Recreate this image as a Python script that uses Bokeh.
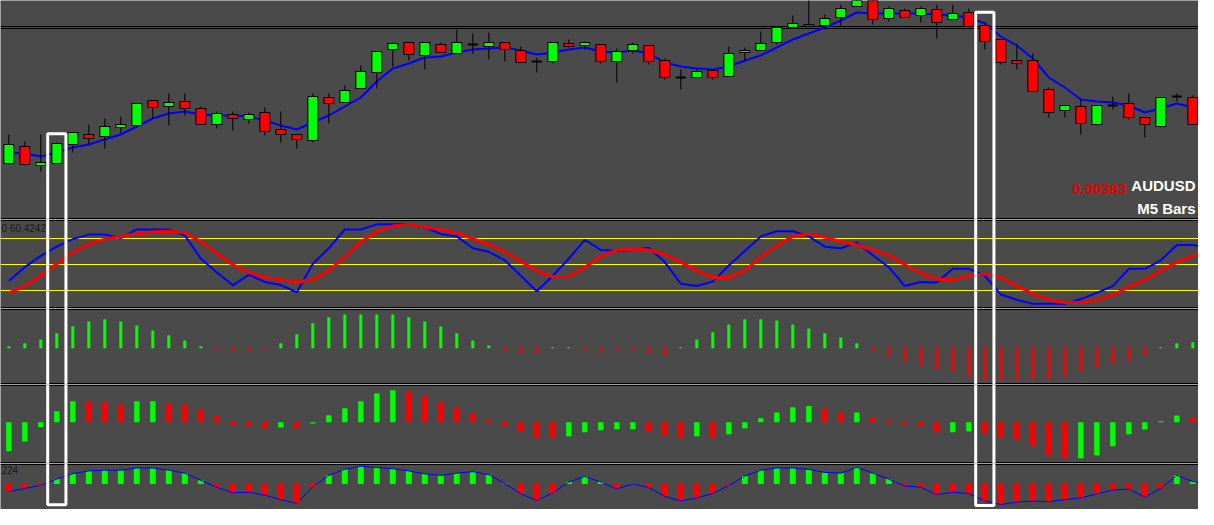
from bokeh.plotting import figure
from bokeh.layouts import column
from bokeh.models import Range1d, Label, ColumnDataSource
from bokeh.embed import file_html
from bokeh.resources import INLINE

# ---------------- data ----------------
bars = list(range(76))

open_ = [0.90320, 0.90337, 0.90318, 0.90320, 0.90339, 0.90349, 0.90347, 0.90356, 0.90358, 0.90383,
         0.90377, 0.90382, 0.90375, 0.90359, 0.90369, 0.90364, 0.90371, 0.90354, 0.90349, 0.90343,
         0.90386, 0.90381, 0.90395, 0.90411, 0.90434, 0.90441, 0.90428, 0.90439, 0.90430, 0.90439,
         0.90437, 0.90441, 0.90433, 0.90422, 0.90422, 0.90440, 0.90438, 0.90439, 0.90422, 0.90433,
         0.90438, 0.90423, 0.90406, 0.90406, 0.90413, 0.90407, 0.90431, 0.90433, 0.90441, 0.90456,
         0.90459, 0.90458, 0.90466, 0.90477, 0.90486, 0.90465, 0.90473, 0.90468, 0.90474, 0.90464,
         0.90471, 0.90458, 0.90444, 0.90423, 0.90423, 0.90394, 0.90373, 0.90377, 0.90359, 0.90378,
         0.90380, 0.90366, 0.90357, 0.90387, 0.90386, 0.90359]
high = [0.90349, 0.90342, 0.90349, 0.90341, 0.90351, 0.90359, 0.90365, 0.90367, 0.90380, 0.90383,
        0.90390, 0.90390, 0.90377, 0.90372, 0.90372, 0.90371, 0.90376, 0.90372, 0.90349, 0.90390,
        0.90390, 0.90398, 0.90418, 0.90432, 0.90441, 0.90441, 0.90441, 0.90441, 0.90454, 0.90450,
        0.90451, 0.90441, 0.90437, 0.90426, 0.90441, 0.90444, 0.90442, 0.90439, 0.90435, 0.90441,
        0.90438, 0.90425, 0.90414, 0.90414, 0.90414, 0.90437, 0.90436, 0.90452, 0.90456, 0.90468,
        0.90486, 0.90469, 0.90479, 0.90487, 0.90488, 0.90477, 0.90475, 0.90477, 0.90479, 0.90479,
        0.90475, 0.90461, 0.90444, 0.90440, 0.90430, 0.90396, 0.90378, 0.90385, 0.90378, 0.90387,
        0.90390, 0.90366, 0.90386, 0.90390, 0.90388, 0.90387]
low = [0.90319, 0.90318, 0.90312, 0.90320, 0.90331, 0.90339, 0.90335, 0.90350, 0.90356, 0.90365,
       0.90358, 0.90368, 0.90359, 0.90355, 0.90353, 0.90360, 0.90348, 0.90341, 0.90335, 0.90341,
       0.90360, 0.90381, 0.90395, 0.90395, 0.90417, 0.90423, 0.90414, 0.90431, 0.90430, 0.90430,
       0.90424, 0.90422, 0.90421, 0.90411, 0.90420, 0.90436, 0.90434, 0.90420, 0.90401, 0.90430,
       0.90419, 0.90404, 0.90394, 0.90406, 0.90404, 0.90407, 0.90422, 0.90433, 0.90439, 0.90456,
       0.90457, 0.90454, 0.90457, 0.90477, 0.90459, 0.90462, 0.90466, 0.90461, 0.90445, 0.90464,
       0.90457, 0.90434, 0.90419, 0.90414, 0.90392, 0.90366, 0.90366, 0.90349, 0.90358, 0.90374,
       0.90364, 0.90346, 0.90356, 0.90382, 0.90359, 0.90350]
close = [0.90339, 0.90319, 0.90321, 0.90340, 0.90351, 0.90345, 0.90357, 0.90359, 0.90380, 0.90376,
         0.90381, 0.90375, 0.90359, 0.90370, 0.90365, 0.90369, 0.90352, 0.90349, 0.90344, 0.90387,
         0.90380, 0.90393, 0.90412, 0.90432, 0.90440, 0.90429, 0.90441, 0.90431, 0.90441, 0.90439,
         0.90441, 0.90434, 0.90421, 0.90422, 0.90441, 0.90437, 0.90441, 0.90422, 0.90432, 0.90439,
         0.90422, 0.90406, 0.90406, 0.90412, 0.90406, 0.90430, 0.90433, 0.90440, 0.90456, 0.90460,
         0.90457, 0.90465, 0.90475, 0.90485, 0.90464, 0.90475, 0.90466, 0.90475, 0.90461, 0.90470,
         0.90457, 0.90442, 0.90421, 0.90420, 0.90392, 0.90371, 0.90378, 0.90360, 0.90378, 0.90378,
         0.90366, 0.90359, 0.90386, 0.90387, 0.90359, 0.90383]
ma = [0.90331, 0.90330, 0.90327, 0.90331, 0.90336, 0.90339, 0.90344, 0.90349, 0.90357, 0.90365,
      0.90370, 0.90372, 0.90369, 0.90368, 0.90368, 0.90367, 0.90363, 0.90358, 0.90354, 0.90361,
      0.90368, 0.90377, 0.90386, 0.90402, 0.90415, 0.90420, 0.90426, 0.90427, 0.90431, 0.90434,
      0.90435, 0.90436, 0.90433, 0.90429, 0.90431, 0.90434, 0.90436, 0.90432, 0.90431, 0.90433,
      0.90430, 0.90421, 0.90417, 0.90415, 0.90414, 0.90417, 0.90423, 0.90428, 0.90436, 0.90444,
      0.90450, 0.90456, 0.90463, 0.90471, 0.90470, 0.90470, 0.90470, 0.90470, 0.90469, 0.90468,
      0.90466, 0.90460, 0.90447, 0.90438, 0.90425, 0.90406, 0.90396, 0.90384, 0.90382, 0.90381,
      0.90378, 0.90371, 0.90375, 0.90380, 0.90376, 0.90373]
hline_levels = [0.90457, 0.90455]

stoch_main = [31.0, 46.9, 59.9, 70.6, 79.3, 84.5, 84.5, 80.5, 90.4, 90.4,
              90.4, 83.6, 56.8, 40.9, 26.0, 38.2, 29.9, 26.3, 18.0, 50.9,
              68.7, 90.4, 90.4, 96.3, 96.3, 96.3, 92.4, 85.3, 82.4, 68.7,
              64.7, 54.8, 37.0, 19.2, 37.0, 56.8, 78.5, 66.7, 65.5, 66.7,
              69.4, 52.8, 27.9, 25.1, 30.2, 48.9, 65.5, 82.4, 88.4, 88.4,
              82.4, 70.6, 68.7, 75.3, 60.7, 46.9, 25.1, 29.9, 29.1, 45.0,
              45.0, 37.0, 15.3, 9.4, 4.6, 4.6, 4.6, 10.1, 17.2, 25.1,
              45.0, 45.0, 54.8, 72.6, 72.6, 68.7]
stoch_signal = [17.2, 25.1, 37.0, 50.9, 63.9, 73.4, 79.3, 82.4, 85.6, 87.6,
                88.4, 86.5, 76.5, 62.8, 49.7, 40.9, 35.0, 32.3, 29.9, 32.3,
                42.9, 58.7, 75.8, 88.4, 94.3, 96.3, 93.1, 90.4, 86.5, 79.7,
                73.4, 64.7, 53.6, 42.9, 35.8, 36.2, 46.9, 59.5, 66.7, 67.9,
                66.7, 61.6, 52.8, 42.9, 35.0, 35.0, 42.9, 58.7, 71.8, 82.4,
                85.3, 81.3, 76.5, 72.6, 66.7, 60.7, 49.7, 40.2, 33.1, 32.3,
                37.0, 39.0, 35.0, 25.1, 16.5, 9.4, 6.2, 6.2, 9.4, 14.5,
                24.3, 32.3, 42.9, 52.8, 59.9, 65.5]
stoch_levels = [80, 50, 20]

hist1 = [2, 5, 8.7, 15, 22, 26.7, 29, 26.7, 22.7, 17.7,
         13, 7.7, 2, -2, -3.3, -3.3, -2, 5, 14, 25,
         31, 33.7, 33.7, 33.7, 33.7, 31, 26.7, 21.7, 15, 7.7,
         2.7, -3.3, -5.7, -5.7, 1, 1, -2.3, -4, -2.3, -2.3,
         -5.7, -6.7, 1, 8.7, 16, 23.7, 29, 29, 27.7, 23.7,
         19.7, 15, 10.7, 5, -3.3, -8, -14, -17.3, -21.3, -23.3,
         -28.3, -32.3, -32.3, -32.3, -31.7, -31.7, -28.3, -23.3, -19, -15,
         -12.3, -7.3, 1, 5, 6, 7]

hist2 = [-29, -19.3, -5, 11, 21, 21, 20, 17.7, 21, 21,
         19, 17.7, 12.7, 6, -2.7, -4, -6, -5.3, -6, -1.3,
         7, 14, 21, 28.7, 32, 31, 26, 20, 15, 9,
         3.3, -4, -9, -15.7, -15.7, -14, -10, -8, -7, -7,
         -9, -13, -15.7, -14, -15.3, -12, -6, 4, 9.7, 15,
         16.3, 13.7, 9.7, 9.7, 5.3, 2, -2.3, -4, -10, -10,
         -9, -11.7, -15.3, -17.3, -24, -33.7, -36, -36, -33, -24,
         -12, -7.3, 1, 6.7, 5, 3.3]
hist2_dir = list("GGGGGRRRGGRRRRRRRGRGGGGGG"
                 "RRRRRRRRRRGGGGGRRRGRGGGGG"
                 "GRRGRRRRRGGRRRRRRGGGGGGGRR")

hist3 = [-10, -6, -1.7, 6.7, 14, 17.7, 18.7, 18.7, 21.7, 21.7,
         18.7, 14.7, 5, -4.3, -11.7, -11, -15, -21, -26, -3.7,
         11.7, 20, 24, 22.3, 20.7, 17.7, 13.7, 11.7, 14.7, 16.7,
         12.7, 0.7, -13.3, -22, -12, 2.7, 10.3, 2.7, -6.7, 0.3,
         -4.7, -16.7, -22.7, -18.7, -12.7, -2, 10.7, 18.7, 21.7, 21.7,
         19.7, 15.7, 14.7, 22.7, 14.7, 6.7, -2.7, -4.3, -14.3, -11,
         -12.7, -22.7, -27.7, -24.3, -22.7, -23.7, -21, -18.7, -13.3, -8,
         -6.7, -17.7, -6, 11.7, 3.3, 0.7]

highlight_bars = [3, 61]
price_text = "0.90383"
symbol_text = "AUDUSD"
tf_text = "M5 Bars"
stoch_label = "0 60.4242"
hist3_label = "224"

# ---------------- style / layout ----------------
BG = "#4a4a4a"
GREEN = "#00ff00"
RED = "#ff0000"
BLUE = "#0000ff"
W = 1198
HEIGHTS = [219, 89, 76, 79, 46]
BOLD_FONT = "Liberation Sans"

# reference pixel-row -> panel value helpers (decorations only)
def top_y(py):
    return 0.90483 - py * 1e-5

def stoch_y(py):
    return (307.3333 - py) / 0.866667

def h1_y(py):
    return 347.7 - py

def h2_y(py):
    return 421.7 - py

def h3_y(py):
    return 490.7 - py

BAR_PX = 16.0
xr = Range1d(-0.52, -0.52 + W / BAR_PX)

def make_fig(h, y0, y1):
    p = figure(width=W, height=h, x_range=xr, y_range=Range1d(y0, y1),
               toolbar_location=None, output_backend="svg",
               x_axis_location=None, y_axis_location=None,
               background_fill_color=BG, border_fill_color=BG,
               outline_line_color=None,
               min_border=0, min_border_left=0, min_border_right=0,
               min_border_top=0, min_border_bottom=0)
    p.grid.visible = False
    return p

ranges = [(top_y(219), top_y(0)), (stoch_y(308), stoch_y(219)),
          (h1_y(384), h1_y(308)), (h2_y(463), h2_y(384)), (h3_y(525), h3_y(463))]
p1, p2, p3, p4, p5 = [make_fig(h, a, b) for h, (a, b) in zip(HEIGHTS, ranges)]

# ---- price panel ----
p1.hspan(y=hline_levels, line_color="black", line_width=1)
p1.line(bars, ma, line_color=BLUE, line_width=2)
p1.segment(x0=bars, y0=high, x1=bars, y1=low, line_color="black", line_width=1)
body_w = 0.62
real = [i for i in bars if open_[i] != close[i]]
doji = [i for i in bars if open_[i] == close[i]]
csrc = ColumnDataSource(dict(
    x=real,
    top=[max(open_[i], close[i]) for i in real],
    bot=[min(open_[i], close[i]) for i in real],
    col=[GREEN if close[i] > open_[i] else RED for i in real]))
p1.vbar(x="x", top="top", bottom="bot", width=body_w, fill_color="col",
        line_color="black", line_width=1, source=csrc)
p1.segment(x0=[i - body_w / 2 for i in doji], y0=[close[i] for i in doji],
           x1=[i + body_w / 2 for i in doji], y1=[close[i] for i in doji],
           line_color="black", line_width=2)
p1.hspan(y=[top_y(218)], line_color="black", line_width=1)

p1.add_layout(Label(x=W - 3, x_units="screen", y=top_y(193), text=symbol_text,
                    text_align="right", text_color="white",
                    text_font=BOLD_FONT, text_font_size="15px", text_font_style="bold"))
p1.add_layout(Label(x=W - 72, x_units="screen", y=top_y(193), text=price_text,
                    text_align="right", text_color="#e80000",
                    text_font=BOLD_FONT, text_font_size="15px", text_font_style="bold"))
p1.add_layout(Label(x=W - 3, x_units="screen", y=top_y(216), text=tf_text,
                    text_align="right", text_color="white",
                    text_font=BOLD_FONT, text_font_size="15px", text_font_style="bold"))

# ---- stochastic panel ----
p2.hspan(y=stoch_levels, line_color="#ffff00", line_width=1)
p2.line(bars, stoch_main, line_color=BLUE, line_width=2)
p2.line(bars, stoch_signal, line_color=RED, line_width=3)
p2.hspan(y=[stoch_y(220), stoch_y(307)], line_color="black", line_width=1)
p2.add_layout(Label(x=1, x_units="screen", y=stoch_y(233), text=stoch_label,
                    text_color="#1a1a1a", text_font="Liberation Sans", text_font_size="10px"))

# ---- histogram 1 ----
s3 = ColumnDataSource(dict(x=bars, v=hist1, c=[GREEN if v >= 0 else RED for v in hist1]))
p3.vbar(x="x", top="v", bottom=0, width=0.19, fill_color="c", line_color=None, source=s3)
p3.hspan(y=[h1_y(309), h1_y(383)], line_color="black", line_width=1)

# ---- histogram 2 ----
s4 = ColumnDataSource(dict(x=bars, v=hist2, c=[GREEN if d == "G" else RED for d in hist2_dir]))
p4.vbar(x="x", top="v", bottom=0, width=0.33, fill_color="c", line_color=None, source=s4)
p4.hspan(y=[h2_y(385), h2_y(462)], line_color="black", line_width=1)

# ---- histogram 3 ----
s5 = ColumnDataSource(dict(x=bars, v=hist3, c=[GREEN if v >= 0 else RED for v in hist3]))
p5.vbar(x="x", top="v", bottom=0, width=0.37, fill_color="c", line_color=None, source=s5)
p5.line(bars, hist3, line_color=BLUE, line_width=1)
p5.hspan(y=[h3_y(463 + 62 / 46)], line_color="black", line_width=1)
p5.add_layout(Label(x=1, x_units="screen", y=h3_y(477), text=hist3_label,
                    text_color="#1a1a1a", text_font="Liberation Sans", text_font_size="10px"))

# ---- white highlight boxes ----
for p, (y0, y1) in zip([p1, p2, p3, p4, p5], ranges):
    span = y1 - y0
    t = [top_y(133.3), top_y(11.7)] if p is p1 else [y1 + span, y1 + span]
    b = [h3_y(518.5), h3_y(519.5)] if p is p5 else [y0 - span, y0 - span]
    p.quad(left=[k - 0.57 for k in highlight_bars], right=[k + 0.57 for k in highlight_bars],
           top=t, bottom=b, fill_color=None, line_color="white", line_width=3)

layout = column(p1, p2, p3, p4, p5, spacing=0)
open("out.html", "w").write(file_html(layout, INLINE))
